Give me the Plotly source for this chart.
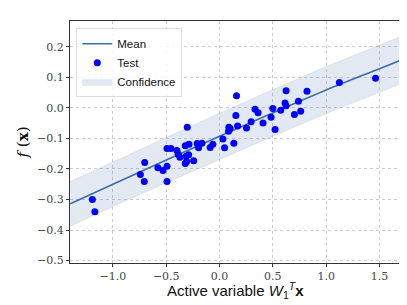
import plotly.graph_objects as go

# Mean curve and confidence band
grid_x = [-1.4, -1.0, -0.5, 0.0, 0.5, 1.0, 1.5, 1.7]
mean_y = [-0.314, -0.250, -0.171, -0.093, -0.017, 0.058, 0.128, 0.156]
upper_y = [-0.241, -0.177, -0.097, -0.018, 0.059, 0.135, 0.205, 0.233]
lower_y = [-0.387, -0.323, -0.245, -0.168, -0.093, -0.019, 0.051, 0.079]

# Test points
test_x = [-1.193, -1.170, -0.743, -0.702, -0.706, -0.578, -0.531, -0.493, -0.493, -0.493,
          -0.456, -0.400, -0.388, -0.372, -0.322, -0.303, -0.287, -0.313, -0.290, -0.322,
          -0.309, -0.243, -0.210, -0.197, -0.166, -0.088, -0.063, 0.031, 0.047, 0.087,
          0.099, 0.084, 0.134, 0.153, 0.159, 0.169, 0.253, 0.296, 0.333, 0.361,
          0.408, 0.483, 0.499, 0.521, 0.574, 0.614, 0.624, 0.624, 0.702, 0.740,
          0.761, 0.820, 1.124, 1.463]
test_y = [-0.300, -0.340, -0.218, -0.179, -0.241, -0.196, -0.205, -0.191, -0.241, -0.133,
          -0.133, -0.140, -0.152, -0.162, -0.124, -0.064, -0.119, -0.159, -0.154, -0.182,
          -0.176, -0.173, -0.117, -0.131, -0.116, -0.130, -0.119, -0.102, -0.131, -0.064,
          -0.068, -0.077, -0.116, -0.025, 0.039, -0.060, -0.066, -0.046, -0.005, -0.016,
          -0.050, -0.031, -0.002, -0.071, -0.008, 0.016, 0.007, 0.056, -0.022, 0.021,
          -0.011, 0.054, 0.083, 0.097]

x_ticks = [-1.0, -0.5, 0.0, 0.5, 1.0, 1.5]
y_ticks = [-0.5, -0.4, -0.3, -0.2, -0.1, 0.0, 0.1, 0.2]

x_title = "Active variable <i>W</i><sub>1</sub><sup><i>T</i></sup><b>x</b>"
y_title = "<i>f</i> (<b>x</b>)"

line_color = "#3b6ea8"
band_fill = "rgba(59,110,168,0.15)"

fig = go.Figure()
fig.add_trace(go.Scatter(
    x=grid_x + grid_x[::-1], y=upper_y + lower_y[::-1],
    fill="toself", fillcolor=band_fill, mode="lines",
    line=dict(color="rgba(59,110,168,0.22)", width=0.6),
    name="Confidence", legendrank=3, hoverinfo="skip"))
fig.add_trace(go.Scatter(
    x=grid_x, y=mean_y, mode="lines", line=dict(color=line_color, width=1.6, shape="spline"),
    name="Mean", legendrank=1))
fig.add_trace(go.Scatter(
    x=test_x, y=test_y, mode="markers", marker=dict(color="#0000ff", size=7),
    name="Test", legendrank=2))

tick_font = dict(family="DejaVu Serif, Liberation Serif, serif", size=11, color="#444")
axis_common = dict(
    showline=True, linecolor="#333", linewidth=1.2, mirror=True,
    showgrid=True, gridcolor="#cccccc", griddash="dot", gridwidth=0.8,
    zeroline=False, ticks="outside", ticklen=3, tickcolor="#333", tickwidth=1,
    tickfont=tick_font, automargin=False,
)

fig.update_layout(
    width=407, height=305,
    margin=dict(l=62, r=14, t=13, b=50, pad=0),
    paper_bgcolor="white", plot_bgcolor="white",
    showlegend=True,
    legend=dict(x=0.019, y=0.97, xanchor="left", yanchor="top",
                bgcolor="rgba(255,255,255,0.85)", bordercolor="#dddddd", borderwidth=1,
                font=dict(family="Liberation Sans, Arial, sans-serif", size=11.5, color="#111"),
                tracegroupgap=0),
    xaxis=dict(range=[-1.403, 1.702], tickvals=x_ticks, tickformat=".1f", **axis_common),
    yaxis=dict(range=[-0.508, 0.284], tickvals=y_ticks, tickformat=".1f",
               title=dict(text=y_title,
                          font=dict(family="DejaVu Serif, serif", size=15, color="#111"),
                          standoff=4),
               **axis_common),
    annotations=[dict(text=x_title, xref="paper", yref="paper", x=0.5, y=-0.113,
                      xanchor="center", yanchor="middle", showarrow=False,
                      font=dict(family="Liberation Sans, Arial, sans-serif", size=15, color="#111"))],
)

fig.write_html("out.html")
